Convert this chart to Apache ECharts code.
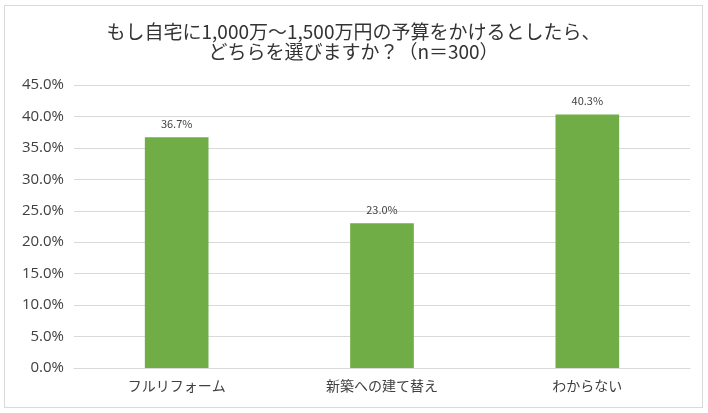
<!DOCTYPE html>
<html>
<head>
<meta charset="utf-8">
<script src="https://cdn.jsdelivr.net/npm/echarts@6/dist/echarts.min.js"></script>
<style>
  html, body { margin: 0; padding: 0; background: #fff; }
  #frame { position: absolute; left: 4px; top: 5px; width: 697px; height: 401px; border: 1px solid #d9d9d9; }
  #chart { width: 697px; height: 401px; }
</style>
</head>
<body>
<div id="frame"><div id="chart"></div></div>
<script>
var categories = ['フルリフォーム', '新築への建て替え', 'わからない'];
var values = [36.7, 23.0, 40.3];
var titleText = 'もし自宅に1,000万～1,500万円の予算をかけるとしたら、\nどちらを選びますか？（n＝300）';

var myChart = echarts.init(document.getElementById('chart'));
var option = {
    animation: false,
    textStyle: { fontFamily: 'Noto Sans CJK JP' },
    title: {
        text: titleText,
        left: 'center',
        top: 11,
        textStyle: {
            fontSize: 19,
            fontWeight: 'normal',
            color: '#333333',
            lineHeight: 20
        }
    },
    grid: {
        left: 69,
        right: 12,
        top: 79,
        bottom: 39
    },
    xAxis: {
        type: 'category',
        data: categories,
        axisLine: { lineStyle: { color: '#d9d9d9' } },
        axisTick: { show: false },
        axisLabel: { fontSize: 14, color: '#404040', margin: 11 }
    },
    yAxis: {
        type: 'value',
        min: 0,
        max: 45,
        interval: 5,
        axisLine: { show: false },
        axisTick: { show: false },
        splitLine: { lineStyle: { color: '#d9d9d9' } },
        axisLabel: {
            fontSize: 15,
            color: '#404040',
            margin: 10,
            fontFamily: 'Open Sans',
            formatter: function (v) { return v.toFixed(1) + '%'; }
        }
    },
    series: [{
        type: 'bar',
        data: values,
        barWidth: '31%',
        itemStyle: { color: '#70ad47' },
        label: {
            show: true,
            position: 'top',
            distance: 8,
            fontSize: 11,
            color: '#404040',
            formatter: function (p) { return p.value.toFixed(1) + '%'; }
        }
    }]
};
myChart.setOption(option);
</script>
</body>
</html>
